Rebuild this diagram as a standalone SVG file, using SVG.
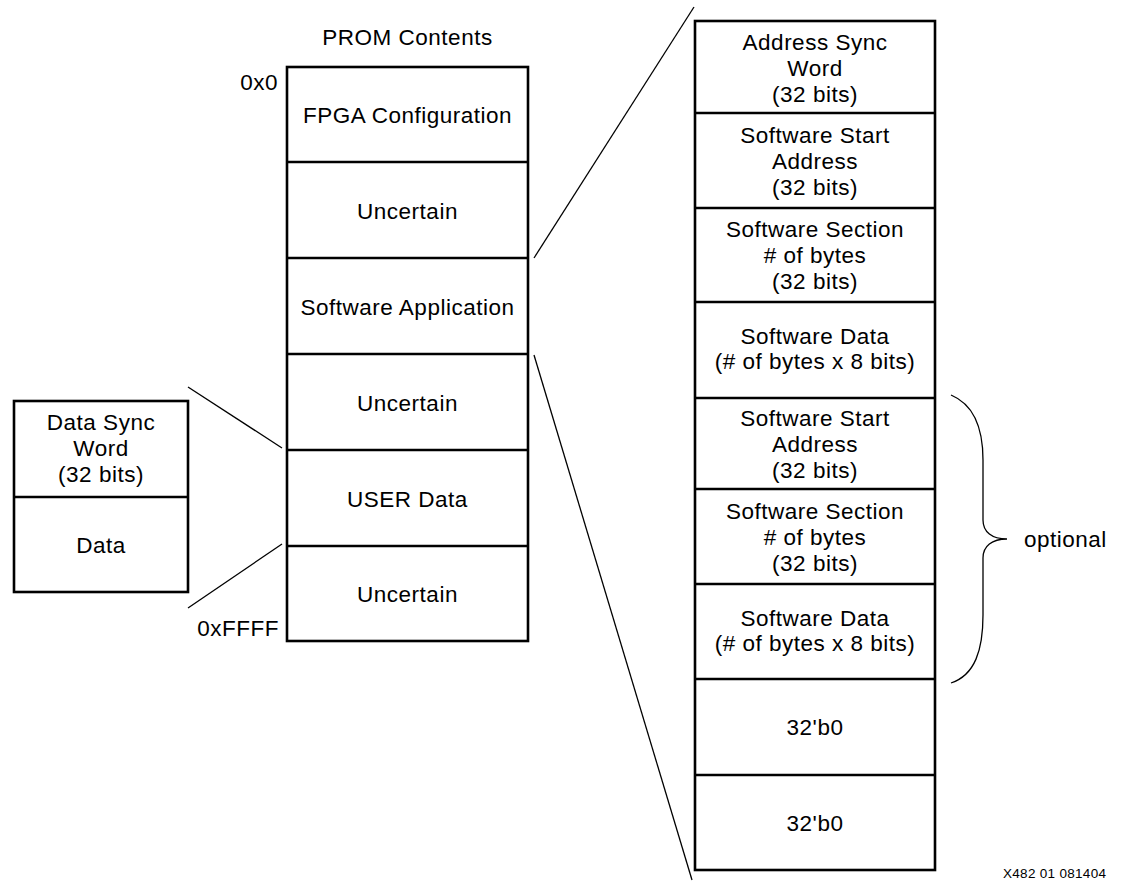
<svg xmlns="http://www.w3.org/2000/svg" width="1121" height="882" viewBox="0 0 1121 882">
<style>
  .box { fill: #fff; stroke: #000; stroke-width: 2.6; }
  .div { stroke: #000; stroke-width: 2.6; fill: none; }
  .con { stroke: #000; stroke-width: 1.3; fill: none; }
  text { font-family: "Liberation Sans", Arial, sans-serif; font-size: 22.5px; letter-spacing: 0.5px; fill: #000; }
  .c { text-anchor: middle; }
  .r { text-anchor: end; }
  .small { font-size: 13.5px; letter-spacing: 0.3px; }
</style>
<rect width="1121" height="882" fill="#fff"/>

<g id="connectors">
  <line class="con" x1="694" y1="7" x2="534" y2="258"/>
  <line class="con" x1="534" y1="355" x2="692" y2="880"/>
  <line class="con" x1="188" y1="387" x2="282" y2="448"/>
  <line class="con" x1="188" y1="608" x2="282" y2="544"/>
  <path class="con" d="M951,395 C975,405 983,430 983,460 L983,520 C983,532 992,539 1007,539 C992,539 983,546 983,558 L983,615 C983,650 975,675 951,683"/>
</g>

<g id="prom">
  <text class="c" x="407.5" y="45">PROM Contents</text>
  <text class="r" x="278" y="90">0x0</text>
  <text class="r" x="279" y="636">0xFFFF</text>
  <rect class="box" x="287" y="67" width="241" height="574"/>
  <g id="prom-fpga"><text class="c" x="407.5" y="123">FPGA Configuration</text></g>
  <line class="div" x1="287" y1="162" x2="528" y2="162"/>
  <g id="prom-uncertain1"><text class="c" x="407.5" y="219">Uncertain</text></g>
  <line class="div" x1="287" y1="258" x2="528" y2="258"/>
  <g id="prom-software"><text class="c" x="407.5" y="315">Software Application</text></g>
  <line class="div" x1="287" y1="354" x2="528" y2="354"/>
  <g id="prom-uncertain2"><text class="c" x="407.5" y="411">Uncertain</text></g>
  <line class="div" x1="287" y1="450" x2="528" y2="450"/>
  <g id="prom-user"><text class="c" x="407.5" y="507">USER Data</text></g>
  <line class="div" x1="287" y1="546" x2="528" y2="546"/>
  <g id="prom-uncertain3"><text class="c" x="407.5" y="602">Uncertain</text></g>
</g>

<g id="userdata">
  <rect class="box" x="14" y="401" width="174" height="191"/>
  <line class="div" x1="14" y1="497" x2="188" y2="497"/>
  <g id="user-sync">
    <text class="c" x="101" y="430">Data Sync</text>
    <text class="c" x="101" y="456">Word</text>
    <text class="c" x="101" y="482">(32 bits)</text>
  </g>
  <g id="user-data"><text class="c" x="101" y="553">Data</text></g>
</g>

<g id="software">
  <rect class="box" x="695" y="21" width="240" height="849"/>
  <line class="div" x1="695" y1="113" x2="935" y2="113"/>
  <line class="div" x1="695" y1="208" x2="935" y2="208"/>
  <line class="div" x1="695" y1="302" x2="935" y2="302"/>
  <line class="div" x1="695" y1="398" x2="935" y2="398"/>
  <line class="div" x1="695" y1="489" x2="935" y2="489"/>
  <line class="div" x1="695" y1="584" x2="935" y2="584"/>
  <line class="div" x1="695" y1="679" x2="935" y2="679"/>
  <line class="div" x1="695" y1="775" x2="935" y2="775"/>
  <g id="sw-addr-sync">
    <text class="c" x="815" y="50">Address Sync</text>
    <text class="c" x="815" y="76">Word</text>
    <text class="c" x="815" y="102">(32 bits)</text>
  </g>
  <g id="sw-start1">
    <text class="c" x="815" y="143">Software Start</text>
    <text class="c" x="815" y="169">Address</text>
    <text class="c" x="815" y="195">(32 bits)</text>
  </g>
  <g id="sw-section1">
    <text class="c" x="815" y="237">Software Section</text>
    <text class="c" x="815" y="263"># of bytes</text>
    <text class="c" x="815" y="289">(32 bits)</text>
  </g>
  <g id="sw-data1">
    <text class="c" x="815" y="344">Software Data</text>
    <text class="c" x="815" y="369">(# of bytes x 8 bits)</text>
  </g>
  <g id="sw-start2">
    <text class="c" x="815" y="426">Software Start</text>
    <text class="c" x="815" y="452">Address</text>
    <text class="c" x="815" y="478">(32 bits)</text>
  </g>
  <g id="sw-section2">
    <text class="c" x="815" y="519">Software Section</text>
    <text class="c" x="815" y="545"># of bytes</text>
    <text class="c" x="815" y="571">(32 bits)</text>
  </g>
  <g id="sw-data2">
    <text class="c" x="815" y="626">Software Data</text>
    <text class="c" x="815" y="651">(# of bytes x 8 bits)</text>
  </g>
  <g id="sw-zero1"><text class="c" x="815" y="735">32'b0</text></g>
  <g id="sw-zero2"><text class="c" x="815" y="831">32'b0</text></g>
</g>

<g id="optional-label"><text x="1024" y="547">optional</text></g>
<text class="small" x="1003" y="878">X482 01 081404</text>
</svg>
